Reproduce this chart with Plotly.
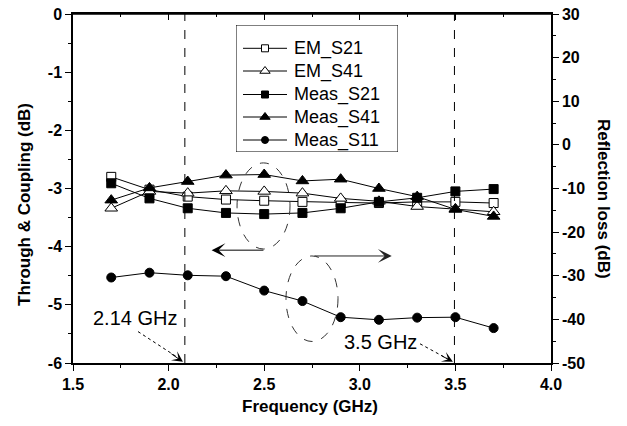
import plotly.graph_objects as go

freq = [1.7, 1.9, 2.1, 2.3, 2.5, 2.7, 2.9, 3.1, 3.3, 3.5, 3.7]
em_s21 = [-2.80, -3.02, -3.14, -3.19, -3.21, -3.23, -3.24, -3.25, -3.23, -3.23, -3.25]
em_s41 = [-3.34, -3.05, -3.08, -3.04, -3.05, -3.08, -3.17, -3.22, -3.31, -3.35, -3.40]
meas_s21 = [-2.91, -3.17, -3.34, -3.42, -3.44, -3.42, -3.34, -3.23, -3.16, -3.05, -3.01]
meas_s41 = [-3.20, -2.99, -2.88, -2.77, -2.76, -2.87, -2.84, -3.00, -3.14, -3.36, -3.48]
meas_s11 = [-30.4, -29.3, -29.9, -30.1, -33.4, -35.8, -39.5, -40.1, -39.6, -39.5, -42.0]

series_names = ["EM_S21", "EM_S41", "Meas_S21", "Meas_S41", "Meas_S11"]

x_ticks = [1.5, 2.0, 2.5, 3.0, 3.5, 4.0]
x_labels = ["1.5", "2.0", "2.5", "3.0", "3.5", "4.0"]
y_ticks = [0, -1, -2, -3, -4, -5, -6]
y_labels = ["0", "-1", "-2", "-3", "-4", "-5", "-6"]
y2_ticks = [30, 20, 10, 0, -10, -20, -30, -40, -50]
y2_labels = ["30", "20", "10", "0", "-10", "-20", "-30", "-40", "-50"]

FONT = "Liberation Sans, Arial, sans-serif"

W, H = 627, 426
PL, PT, PR, PB = 73, 14, 551, 363
L, T, R, B = PL, PT, W - PR, H - PB
pw, ph = PR - PL, PB - PT

def px(xp):
    return (xp - PL) / pw

def py(yp):
    return 1 - (yp - PT) / ph

styles = [("square", "white", 9), ("triangle-up", "white", 11), ("square", "black", 9),
          ("triangle-up", "black", 11), ("circle", "black", 9)]
values = [em_s21, em_s41, meas_s21, meas_s41, meas_s11]
axes = ["y", "y", "y", "y", "y2"]

fig = go.Figure()
for name, vals, (sym, fill, size), ya in zip(series_names, values, styles, axes):
    fig.add_trace(go.Scatter(
        x=freq, y=vals, name=name, mode="lines+markers", yaxis=ya, showlegend=False,
        line=dict(color="black", width=1),
        marker=dict(symbol=sym, size=size, color=fill, line=dict(color="black", width=1)),
    ))

fig.add_trace(go.Scatter(x=[1.5, 4.0], y=[0, 0], xaxis="x2", mode="lines",
                         line=dict(width=0), showlegend=False, hoverinfo="skip"))

LB = dict(x0=236, x1=398, y0=25, y1=152)
row_y = [48.3, 71, 94.5, 117, 140]
for i, (name, (sym, fill, size)) in enumerate(zip(series_names, styles)):
    fig.add_trace(go.Scatter(x=[243, 287], y=[row_y[i], row_y[i]], xaxis="x3", yaxis="y3",
                             mode="lines", line=dict(color="black", width=1),
                             showlegend=False, hoverinfo="skip"))
    fig.add_trace(go.Scatter(x=[265], y=[row_y[i]], xaxis="x3", yaxis="y3", mode="markers",
                             marker=dict(symbol=sym, size=size - 2, color=fill,
                                         line=dict(color="black", width=1)),
                             showlegend=False, hoverinfo="skip"))

tickfont = dict(family=FONT, size=16, color="black")
titlefont = dict(family=FONT, size=17, color="black")

def b(lst):
    return ["<b>%s</b>" % s for s in lst]

fig.update_layout(
    width=W, height=H,
    margin=dict(l=L, r=R, t=T, b=B),
    plot_bgcolor="white", paper_bgcolor="white",
    showlegend=False,
    xaxis=dict(range=[1.5, 4.0], tickvals=x_ticks, ticktext=b(x_labels),
               showgrid=False, zeroline=False, showline=True, linecolor="black",
               linewidth=1.5, ticks="outside", ticklen=6, tickcolor="black",
               minor=dict(dtick=0.25, ticks="outside", ticklen=3, tickcolor="black"),
               tickfont=tickfont, automargin=False, ticklabeloverflow="allow"),
    xaxis2=dict(range=[1.5, 4.0], overlaying="x", side="top", anchor="y", dtick=0.5, tick0=1.5,
                showgrid=False, zeroline=False, showline=True, linecolor="black",
                linewidth=1.5, ticks="inside", ticklen=6, tickcolor="black",
                minor=dict(dtick=0.25, ticks="inside", ticklen=3, tickcolor="black"),
                showticklabels=False, automargin=False),
    yaxis=dict(range=[-6, 0], tickvals=y_ticks, ticktext=b(y_labels),
               showgrid=False, zeroline=False,
               showline=True, linecolor="black", linewidth=1.5,
               ticks="outside", ticklen=6, tickcolor="black",
               minor=dict(dtick=0.5, ticks="outside", ticklen=3, tickcolor="black"),
               tickfont=tickfont, automargin=False, ticklabeloverflow="allow"),
    yaxis2=dict(range=[-50, 30], tickvals=y2_ticks, ticktext=b(y2_labels),
                overlaying="y", side="right",
                showgrid=False, zeroline=False, showline=True, linecolor="black",
                linewidth=1.5, ticks="outside", ticklen=6, tickcolor="black",
                minor=dict(dtick=5, ticks="outside", ticklen=3, tickcolor="black"),
                tickfont=tickfont, automargin=False, ticklabeloverflow="allow"),
    xaxis3=dict(domain=[px(LB["x0"]), px(LB["x1"])], range=[LB["x0"], LB["x1"]],
                visible=False, anchor="y3", fixedrange=True),
    yaxis3=dict(domain=[py(LB["y1"]), py(LB["y0"])], range=[LB["y1"], LB["y0"]],
                visible=False, anchor="x3", fixedrange=True),
)

shapes = []
shapes.append(dict(type="rect", xref="x3", yref="y3", x0=LB["x0"], x1=LB["x1"],
                   y0=LB["y0"], y1=LB["y1"], line=dict(color="black", width=1),
                   fillcolor="white", layer="below"))
shapes.append(dict(type="line", xref="paper", yref="paper", x0=0, x1=1, y0=1, y1=1,
                   line=dict(color="black", width=1.5)))
for xv in (2.085, 3.495):
    shapes.append(dict(type="line", xref="x", yref="paper", x0=xv, x1=xv, y0=0, y1=1,
                       line=dict(color="black", width=1, dash="dash")))
shapes.append(dict(type="circle", xref="x", yref="y", x0=2.358, x1=2.635, y0=-4.04, y1=-2.56,
                   line=dict(color="#333", width=1, dash="dash")))
shapes.append(dict(type="circle", xref="x", yref="y", x0=2.614, x1=2.886, y0=-5.63, y1=-4.16,
                   line=dict(color="#333", width=1, dash="dash")))
shapes.append(dict(type="line", xref="x", yref="y", x0=1.84, y0=-5.46, x1=2.05, y1=-5.91,
                   line=dict(color="black", width=1, dash="dot")))
shapes.append(dict(type="line", xref="x", yref="y", x0=3.315, y0=-5.67, x1=3.46, y1=-5.93,
                   line=dict(color="black", width=1, dash="dot")))
fig.update_layout(shapes=shapes)

ann = []
for i, name in enumerate(series_names):
    ann.append(dict(x=292, y=row_y[i], xref="x3", yref="y3", text=name, showarrow=False,
                    xanchor="left", yanchor="middle",
                    font=dict(family=FONT, size=18, color="black")))
ann.append(dict(x=2.225, y=-4.06, ax=2.504, ay=-4.06, xref="x", yref="y", axref="x", ayref="y",
                text="", showarrow=True, arrowhead=3, arrowsize=2.3, arrowwidth=1,
                arrowcolor="black"))
ann.append(dict(x=3.167, y=-4.16, ax=2.755, ay=-4.16, xref="x", yref="y", axref="x", ayref="y",
                text="", showarrow=True, arrowhead=3, arrowsize=2.3, arrowwidth=1,
                arrowcolor="#222"))
ann.append(dict(x=2.075, y=-5.98, ax=-13, ay=-9, xref="x", yref="y",
                text="", showarrow=True, arrowhead=3, arrowsize=1.8, arrowwidth=1,
                arrowcolor="black"))
ann.append(dict(x=3.487, y=-5.98, ax=-13, ay=-7, xref="x", yref="y",
                text="", showarrow=True, arrowhead=3, arrowsize=1.8, arrowwidth=1,
                arrowcolor="black"))
ann.append(dict(x=1.824, y=-5.23, xref="x", yref="y", text="2.14 GHz", showarrow=False,
                font=dict(family=FONT, size=20, color="black")))
ann.append(dict(x=3.106, y=-5.64, xref="x", yref="y", text="3.5 GHz", showarrow=False,
                font=dict(family=FONT, size=20, color="black")))
ann.append(dict(x=px(604), y=py(199), xref="paper", yref="paper",
                text="<b>Reflection loss (dB)</b>", showarrow=False, textangle=90,
                xanchor="center", yanchor="middle", font=titlefont))
ann.append(dict(x=px(24), y=py(205), xref="paper", yref="paper",
                text="<b>Through &amp; Coupling (dB)</b>", showarrow=False, textangle=-90,
                xanchor="center", yanchor="middle", font=titlefont))
ann.append(dict(x=px(310), y=py(406), xref="paper", yref="paper",
                text="<b>Frequency (GHz)</b>", showarrow=False,
                xanchor="center", yanchor="middle", font=titlefont))
fig.update_layout(annotations=ann)

fig.write_html("out.html", config={"displayModeBar": False},
               post_script="document.body.style.margin='0';document.body.style.overflow='hidden';")
